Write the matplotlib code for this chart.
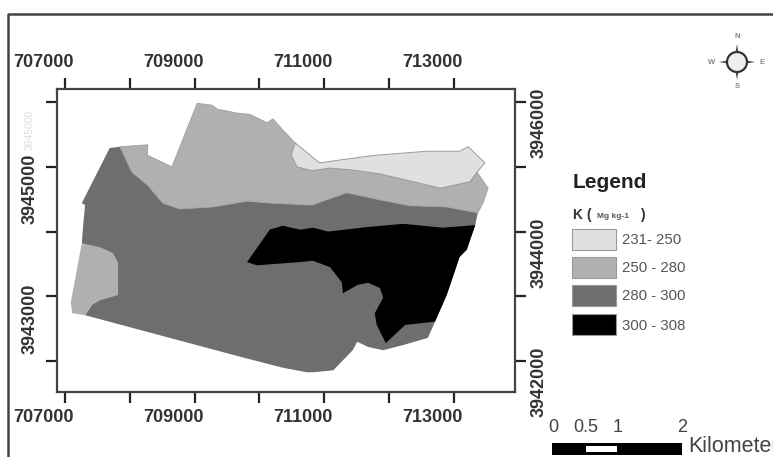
import matplotlib
matplotlib.use("Agg")
import matplotlib.pyplot as plt
from matplotlib.lines import Line2D
from matplotlib.patches import Circle, Polygon, Rectangle

plt.rcParams["font.family"] = ["Liberation Sans", "DejaVu Sans"]

# map coordinates (UTM metres)
xticks = [707000, 708000, 709000, 710000, 711000, 712000, 713000]
yticks = [3942000, 3943000, 3944000, 3945000, 3946000]
xlabels = [707000, 709000, 711000, 713000]
ylabels_left = [3943000, 3945000]
ylabels_right = [3942000, 3944000, 3946000]

dark_x = [707260, 707690, 707850, 708030, 708270, 708510, 708770, 709280, 709810, 710160, 710810,
          711350, 711860, 712320, 712890, 713370, 713330, 713200, 713090, 712890, 712710, 712600,
          712220, 711910, 711680, 711510, 711440, 711140, 710830, 710730, 710360, 709700, 707310,
          707820, 707260, 707280, 707310]
dark_y = [3944440, 3945290, 3945310, 3944920, 3944720, 3944440, 3944350, 3944380, 3944470, 3944440, 3944410,
          3944600, 3944490, 3944400, 3944380, 3944290, 3944100, 3943720, 3943610, 3943020, 3942610, 3942360,
          3942250, 3942170, 3942220, 3942300, 3942170, 3941860, 3941830, 3941830, 3941900, 3942070, 3942710,
          3943500, 3943820, 3944090, 3944410]

mid_x = [707850, 708280, 708270, 708650, 709040, 709270, 709350, 709650, 709850, 710120, 710210, 710360,
         710550, 710800, 712000, 713100, 713340, 713370, 713530, 713450, 713370, 712890, 712320, 711860,
         711350, 710810, 710160, 709810, 709280, 708770, 708510, 708270, 708030]
mid_y = [3945310, 3945340, 3945180, 3945000, 3945980, 3945950, 3945890, 3945830, 3945810, 3945680, 3945740, 3945570,
         3945370, 3945000, 3945000, 3945000, 3944930, 3944900, 3944670, 3944440, 3944290, 3944380, 3944400, 3944490,
         3944600, 3944410, 3944440, 3944470, 3944380, 3944350, 3944440, 3944720, 3944920]

patch_x = [707110, 707090, 707260, 707540, 707740, 707820, 707820, 707540, 707420, 707310]
patch_y = [3942740, 3942910, 3943820, 3943760, 3943670, 3943520, 3943020, 3942940, 3942870, 3942710]

light_x = [710550, 710930, 711350, 711810, 712590, 713090, 713220, 713480, 713360, 713250, 712790, 712370,
           711860, 711440, 711090, 710810, 710580, 710490]
light_y = [3945370, 3945060, 3945120, 3945180, 3945240, 3945240, 3945310, 3945060, 3944920, 3944770, 3944670, 3944770,
           3944890, 3944950, 3944980, 3944940, 3945000, 3945180]

black_x = [710160, 710360, 710630, 710830, 711060, 711660, 712220, 712830, 713330, 713200, 713090, 712890,
           712710, 712250, 711950, 711810, 711780, 711910, 711860, 711680, 711520, 711290, 711270, 711090,
           710830, 710630, 709960, 709810]
black_y = [3944030, 3944090, 3944030, 3944060, 3944000, 3944070, 3944120, 3944060, 3944100, 3943720, 3943610, 3943020,
           3942610, 3942560, 3942280, 3942560, 3942740, 3942980, 3943130, 3943210, 3943180, 3943050, 3943220, 3943450,
           3943550, 3943530, 3943480, 3943530]

legend_labels = ["231- 250", "250 - 280", "280 - 300", "300 - 308"]
legend_colors = ["#e0e0e0", "#b0b0b0", "#6e6e6e", "#000000"]
scale_km = [0, 0.5, 1, 2]
scale_labels = ["0", "0.5", "1", "2"]

fig = plt.figure(figsize=(7.73, 4.57), dpi=100)
W, H = 773, 457

ax = fig.add_axes([57 / W, 1 - 392 / H, (515 - 57) / W, (392 - 88.5) / H])
ax.set_xlim(706877, 713944)
ax.set_ylim(3941525, 3946208)

ax.add_patch(Polygon(list(zip(dark_x, dark_y)), fc=legend_colors[2], ec="none"))
ax.add_patch(Polygon(list(zip(mid_x, mid_y)), fc=legend_colors[1], ec="#a0a0a0", lw=0.6))
ax.add_patch(Polygon(list(zip(patch_x, patch_y)), fc=legend_colors[1], ec="none"))
ax.add_patch(Polygon(list(zip(light_x, light_y)), fc=legend_colors[0], ec="#9a9a9a", lw=0.7))
ax.add_patch(Polygon(list(zip(black_x, black_y)), fc=legend_colors[3], ec="none"))

ax.set_xticks(xticks)
ax.set_yticks(yticks)
ax.tick_params(top=True, right=True, bottom=True, left=True, labelbottom=False, labelleft=False,
               length=8, width=1.6, color="#222222")
for s in ax.spines.values():
    s.set_linewidth(1.6)
    s.set_color("#444444")

# the labels sit about 21 px off their ticks in the original
txt = dict(fontsize=13, fontweight="bold", color="#333333", ha="center", va="center", textcoords="offset pixels")
for v in xlabels:
    ax.annotate(str(v), (v, 1), xycoords=("data", "axes fraction"), xytext=(-21, 26), **txt)
    ax.annotate(str(v), (v, 0), xycoords=("data", "axes fraction"), xytext=(-21, -25), **txt)
for v in ylabels_left:
    ax.annotate(str(v), (0, v), xycoords=("axes fraction", "data"), xytext=(-27, -22), rotation=90, **txt)
for v in ylabels_right:
    ax.annotate(str(v), (1, v), xycoords=("axes fraction", "data"), xytext=(24, -21), rotation=90, **txt)

# overlay in pixel coordinates for the layout parts outside the map
ov = fig.add_axes([0, 0, 1, 1], zorder=5)
ov.set_xlim(0, W)
ov.set_ylim(H, 0)
ov.axis("off")
ov.patch.set_alpha(0)

ov.add_line(Line2D([8, 8, W], [H, 14, 14], color="#444444", lw=1.8))
ov.text(30, 130, "3945000", rotation=90, fontsize=7.5, color="#dddddd", ha="center", va="center")

ov.text(573, 182, "Legend", fontsize=15, fontweight="bold", color="#222222", va="center")
ov.text(573, 215, "K (", fontsize=10, fontweight="bold", color="#333333", va="center")
ov.text(597, 216, "Mg kg-1", fontsize=6, fontweight="bold", color="#555555", va="center")
ov.text(640, 215, ")", fontsize=10, fontweight="bold", color="#333333", va="center")

swatch_top = [229, 257, 285, 314]
for top, col, lab in zip(swatch_top, legend_colors, legend_labels):
    ov.add_patch(Rectangle((572, top), 44, 21, fc=col, ec="#999999", lw=0.8))
    ov.text(622, top + 11.5, lab, fontsize=10.8, color="#555555", va="center")

# scale bar, 2 km on the map is 130 px
px_km = 64.8
bar_x = [552 + k * px_km for k in scale_km]
ov.add_patch(Rectangle((bar_x[0], 443), bar_x[3] - bar_x[0], 12, fc="black", ec="none"))
ov.add_patch(Rectangle((bar_x[1] + 2, 446), bar_x[2] - bar_x[1] - 2, 6, fc="white", ec="none"))
for x, lab in zip(bar_x, scale_labels):
    ov.text(x + 1, 428, lab, fontsize=13, color="#444444", ha="center", va="center")
ov.text(688, 446, "Kilometers", fontsize=15.5, color="#444444", va="center", clip_on=False)

# north arrow
cx, cy = 737, 62
for dx, dy in [(0, -1), (0, 1), (-1, 0), (1, 0)]:
    ov.add_patch(Polygon([(cx + dx * 18, cy + dy * 18), (cx + dy * 3, cy + dx * 3), (cx - dy * 3, cy - dx * 3)],
                         fc="#444444", ec="none"))
ov.add_patch(Circle((cx, cy), 10, fc="#eeeeee", ec="#333333", lw=1.6))
for lab, dx, dy in [("N", 0, -26), ("S", 0, 25), ("W", -25, 0), ("E", 25, 0)]:
    ov.text(cx + dx, cy + dy, lab, fontsize=5.5, fontweight="bold", color="#888888", ha="center", va="center")

fig.savefig("out.png", dpi=100)
